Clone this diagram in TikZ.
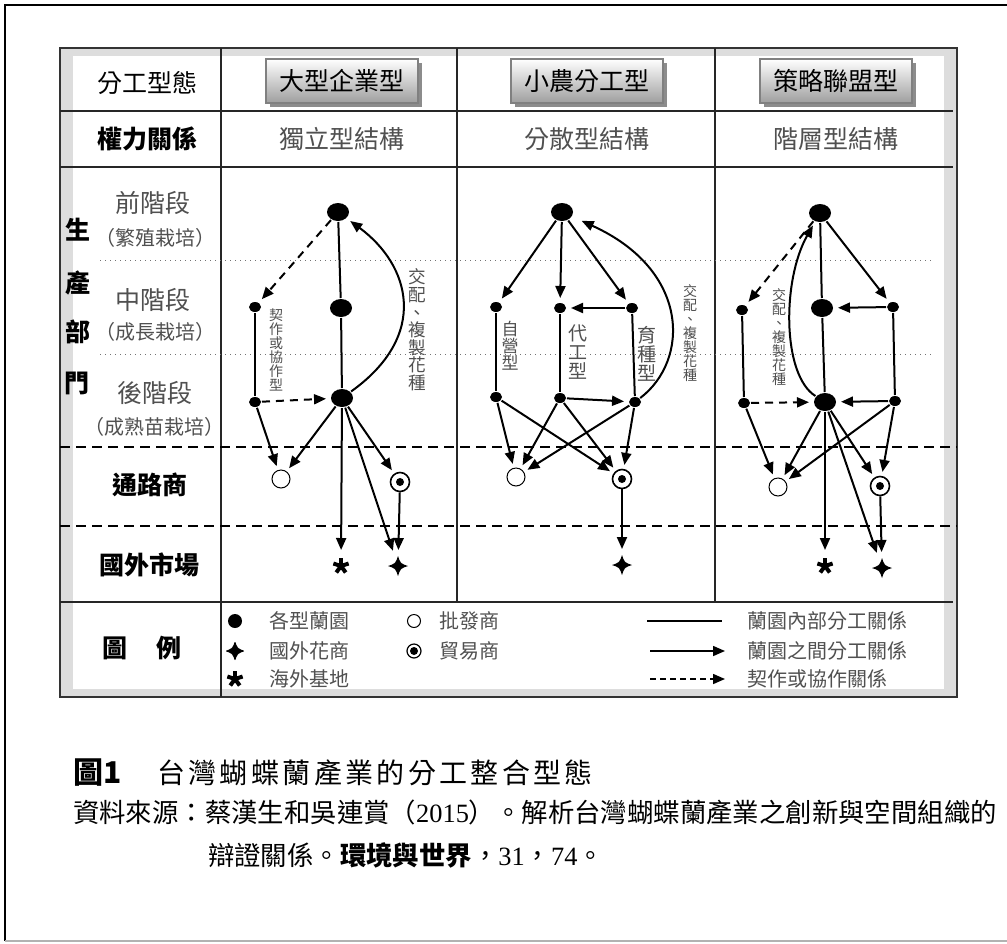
\documentclass[tikz,border=0pt]{standalone}
\usepackage{fontspec}
\setmainfont{Liberation Serif}
\newfontfamily\cjk{Noto Sans CJK TC}
\newfontfamily\cjkwide[LetterSpace=12]{Noto Sans CJK TC}
\usepackage{tikz}
\usetikzlibrary{positioning}
\usetikzlibrary{arrows.meta}
\usetikzlibrary{shapes.geometric}
\usetikzlibrary{shadows}

\definecolor{bandgray}{HTML}{DDDDDD}
\definecolor{txtgray}{HTML}{505050}
\newcommand{\fsz}[1]{\fontsize{#1}{#1}\selectfont}

\begin{document}
\begin{tikzpicture}[x=0.5pt,y=-0.5pt,line width=1pt,
    >={Triangle[length=6pt,width=5pt]},
    bigdot/.style={ellipse,fill=black,minimum width=11pt,minimum height=9pt,inner sep=0pt},
    smalldot/.style={ellipse,fill=black,minimum width=6pt,minimum height=5pt,inner sep=0pt},
    whole/.style={circle,draw,line width=0.5pt,minimum size=9pt,inner sep=0pt},
    trader/.style={circle,draw,line width=0.8pt,minimum size=9.5pt,inner sep=0pt,
      path picture={\fill (path picture bounding box.center) circle (2pt);}},
    foreign/.style={circle,minimum size=11pt,inner sep=0pt,
      path picture={\fill[shift={(path picture bounding box.center)}]
        (0,-10) .. controls (2.5,-2.5) .. (10,0) .. controls (2.5,2.5) .. (0,10)
        .. controls (-2.5,2.5) .. (-10,0) .. controls (-2.5,-2.5) .. cycle;}},
    basestar/.style={circle,minimum size=11pt,inner sep=0pt,
      path picture={\foreach \ang in {-90,-18,54,126,198}
        \draw[line width=2pt,shift={(path picture bounding box.center)}] (0,0) -- (\ang:8);}},
    btn/.style={rectangle,draw=black!50,line width=0.6pt,top color=white,bottom color=black!38,
      minimum width=76pt,minimum height=22pt,inner sep=0pt,
      drop shadow={shadow xshift=2pt,shadow yshift=-2pt,fill=black!45,opacity=1},
      font=\cjk\fsz{12.5}},
    tabline/.style={line width=0.7pt,draw=black!85},
    dotline/.style={dotted,line width=0.5pt,draw=black!55},
    dashline/.style={dash pattern=on 5pt off 3pt,line width=0.6pt},
    arr/.style={->,shorten >=2pt},
    dasharr/.style={->,dash pattern=on 4pt off 3pt,shorten >=2pt},
    hdtext/.style={font=\cjk\fsz{12.5}},
    hdbold/.style={font=\cjk\bfseries\fsz{12.5}},
    secbold/.style={font=\cjk\bfseries\fsz{12.5},inner sep=0pt},
    graytext/.style={text=txtgray,font=\cjk\fsz{12.5}},
    smallgray/.style={text=txtgray,font=\cjk\fsz{10},inner sep=0pt},
    vlab/.style={text=txtgray,align=center,inner sep=0pt},
    legtext/.style={text=txtgray,font=\cjk\fsz{10},anchor=west}]

    \useasboundingbox (0,0) rectangle (1007,943);

    % outer frame
    \draw[line width=1.2pt] (5,941) -- (5,5) -- (1007,5);
    \draw[black!30,line width=0.6pt] (5,941) -- (1007,941);

    % table
    \draw[fill=bandgray,draw=black!80,line width=0.8pt] (60,48) rectangle (957,697);
    \fill[white] (73,56) rectangle (944,689);
    \draw[tabline] (60,111) -- (953,111);
    \draw[tabline] (60,167) -- (953,167);
    \draw[tabline] (60,602) -- (953,602);
    \draw[tabline] (221,48) -- (221,697);
    \draw[tabline] (457,48) -- (457,602);
    \draw[tabline] (715,48) -- (715,602);
    \draw[dotline] (100,260) -- (933,260);
    \draw[dotline] (100,354) -- (933,354);
    \draw[dashline] (60,447) -- (957,447);
    \draw[dashline] (60,526) -- (957,526);

    % header rows
    \node[hdtext] (rowType) at (147,83) {分工型態};
    \node[hdbold] (rowPower) at (147,139) {權力關係};
    \node[btn] (btnLarge) at (342,81) {大型企業型};
    \node[btn] (btnSmall) at (587,81) {小農分工型};
    \node[btn] (btnAlly) at (836,81) {策略聯盟型};
    \node[graytext] (powLarge) at (342,139) {獨立型結構};
    \node[graytext] (powSmall) at (587,139) {分散型結構};
    \node[graytext] (powAlly) at (836,139) {階層型結構};

    % left column
    \node[graytext] (stFront) at (153,203) {前階段};
    \node[smallgray] (stFrontSub) at (155,238) {（繁殖栽培）};
    \node[graytext] (stMid) at (153,300) {中階段};
    \node[smallgray] (stMidSub) at (155,332) {（成長栽培）};
    \node[graytext] (stBack) at (155,393) {後階段};
    \node[smallgray] (stBackSub) at (154,427) {（成熟苗栽培）};
    \node[secbold] (secA) at (78,230) {生};
    \node[secbold] (secB) at (78,283) {產};
    \node[secbold] (secC) at (78,332) {部};
    \node[secbold] (secD) at (77,383) {門};
    \node[hdbold] (rowDist) at (150,485) {通路商};
    \node[hdbold] (rowMarket) at (149,565) {國外市場};
    \node[hdbold] (rowLegend) at (142,648) {圖\hspace{1.2em}例};

    % large enterprise
    \node[bigdot] (a1) at (338,212) {};
    \node[bigdot] (a2) at (341,308) {};
    \node[bigdot] (a3) at (342,398) {};
    \node[smalldot] (a4) at (255,307) {};
    \node[smalldot] (a5) at (255,402) {};
    \node[whole] (a6) at (281,479) {};
    \node[trader] (a7) at (400,482) {};
    \node[basestar] (a8) at (341,566) {};
    \node[foreign] (a9) at (398,566) {};
    \node[vlab,font=\cjk\fsz{8.8}] (a1lab) at (417,330) {交\\配\\、\\複\\製\\花\\種};
    \node[vlab,font=\cjk\fsz{7}] (a4lab) at (276,350) {契\\作\\或\\協\\作\\型};

    \draw (a1) -- (a2) -- (a3);
    \draw (a4) -- (a5);
    \draw[dasharr] (a1) -- (a4);
    \draw[dasharr] (a5) -- (a3);
    \draw[arr] (a3) .. controls (430,335) and (410,265) .. (a1);
    \draw[arr] (a5) -- (a6);
    \draw[arr] (a3) -- (a6);
    \draw[arr] (a3) -- (a7);
    \draw[arr] (a3) -- (a8);
    \draw[arr] (a3) -- (a9);
    \draw[arr] (a7) -- (a9);

    % small farmers
    \node[bigdot] (b1) at (562,212) {};
    \node[smalldot] (b2) at (496,307) {};
    \node[smalldot] (b3) at (560,308) {};
    \node[smalldot] (b4) at (632,308) {};
    \node[smalldot] (b5) at (496,397) {};
    \node[smalldot] (b6) at (560,398) {};
    \node[smalldot] (b7) at (635,402) {};
    \node[whole] (b8) at (516,477) {};
    \node[trader] (b9) at (622,479) {};
    \node[foreign] (b10) at (622,565) {};
    \node[vlab,font=\cjk\fsz{8.5}] (b2lab) at (510,346) {自\\營\\型};
    \node[vlab,font=\cjk\fsz{9.5}] (b3lab) at (578,352) {代\\工\\型};
    \node[vlab,font=\cjk\fsz{9.5}] (b4lab) at (647,354) {育\\種\\型};
    \node[vlab,font=\cjk\fsz{7}] (b1lab) at (690,333) {交\\配\\、\\複\\製\\花\\種};

    \draw[arr] (b1) -- (b2);
    \draw[arr] (b1) -- (b3);
    \draw[arr] (b1) -- (b4);
    \draw[arr] (b4) -- (b3);
    \draw (b2) -- (b5);
    \draw (b3) -- (b6);
    \draw (b4) -- (b7);
    \draw[arr] (b6) -- (b7);
    \draw[arr,shorten >=5pt] (b7) .. controls (690,360) and (690,270) .. (b1);
    \draw[arr] (b5) -- (b8);
    \draw[arr] (b5) -- (b9);
    \draw[arr] (b6) -- (b8);
    \draw[arr] (b6) -- (b9);
    \draw[arr] (b7) -- (b8);
    \draw[arr] (b7) -- (b9);
    \draw[arr] (b9) -- (b10);

    % strategic alliance
    \node[bigdot] (c1) at (820,213) {};
    \node[bigdot] (c2) at (822,308) {};
    \node[bigdot] (c3) at (825,402) {};
    \node[smalldot] (c4) at (742,310) {};
    \node[smalldot] (c5) at (744,403) {};
    \node[smalldot] (c6) at (893,307) {};
    \node[smalldot] (c7) at (895,401) {};
    \node[whole] (c8) at (778,487) {};
    \node[trader] (c9) at (880,486) {};
    \node[basestar] (c10) at (825,566) {};
    \node[foreign] (c11) at (882,568) {};
    \node[vlab,font=\cjk\fsz{7}] (c1lab) at (779,337) {交\\配\\、\\複\\製\\花\\種};

    \draw (c1) -- (c2) -- (c3);
    \draw (c4) -- (c5);
    \draw (c6) -- (c7);
    \draw[dasharr] (c1) -- (c4);
    \draw[dasharr] (c5) -- (c3);
    \draw[arr] (c1) -- (c6);
    \draw[arr] (c6) -- (c2);
    \draw[arr] (c7) -- (c3);
    \draw[arr] (c3) .. controls (782,375) and (782,280) .. (c1);
    \draw[arr] (c5) -- (c8);
    \draw[arr] (c3) -- (c8);
    \draw[arr] (c7) -- (c8);
    \draw[arr] (c3) -- (c10);
    \draw[arr] (c3) -- (c11);
    \draw[arr] (c3) -- (c9);
    \draw[arr] (c7) -- (c9);
    \draw[arr] (c9) -- (c11);

    % legend
    \node[circle,fill,minimum size=7pt,inner sep=0pt] (lgOrchard) at (235,621) {};
    \node[legtext] (lgOrchardT) at (262,621) {各型蘭園};
    \node[circle,draw,line width=0.5pt,minimum size=6.5pt,inner sep=0pt] (lgWhole) at (414,621) {};
    \node[legtext] (lgWholeT) at (432,621) {批發商};
    \node[foreign,minimum size=9pt] (lgForeign) at (235,651) {};
    \node[legtext] (lgForeignT) at (262,651) {國外花商};
    \node[trader,minimum size=7pt,line width=0.6pt] (lgTrader) at (414,651) {};
    \node[legtext] (lgTraderT) at (432,651) {貿易商};
    \node[basestar,minimum size=9pt] (lgBase) at (235,679) {};
    \node[legtext] (lgBaseT) at (262,679) {海外基地};
    \coordinate (lgInA) at (647,621);
    \coordinate (lgInB) at (722,621);
    \coordinate (lgOutA) at (650,651);
    \coordinate (lgOutB) at (725,651);
    \coordinate (lgConA) at (650,679);
    \coordinate (lgConB) at (725,679);
    \draw[line width=0.7pt] (lgInA) -- (lgInB);
    \draw[->,line width=0.8pt] (lgOutA) -- (lgOutB);
    \draw[->,line width=0.8pt,dash pattern=on 3pt off 2pt] (lgConA) -- (lgConB);
    \node[legtext] (lgInT) at (740,621) {蘭園內部分工關係};
    \node[legtext] (lgOutT) at (740,651) {蘭園之間分工關係};
    \node[legtext] (lgConT) at (740,679) {契作或協作關係};

    % caption
    \node[anchor=west,inner sep=0pt] (capTitle) at (72,773)
      {{\cjk\bfseries\fsz{15}圖1}\hspace{18pt}{\cjkwide\fsz{14}台灣蝴蝶蘭產業的分工整合型態}};
    \node[anchor=west,inner sep=0pt] (capSrc) at (72,812)
      {\cjk\fsz{13.2}資料來源：蔡漢生和吳連賞（{\rmfamily 2015}）。解析台灣蝴蝶蘭產業之創新與空間組織的};
    \node[anchor=west,inner sep=0pt] (capSrcB) at (207,855)
      {\cjk\fsz{13.2}辯證關係。{\bfseries 環境與世界}，{\rmfamily 31}，{\rmfamily 74}。};

\end{tikzpicture}
\end{document}
